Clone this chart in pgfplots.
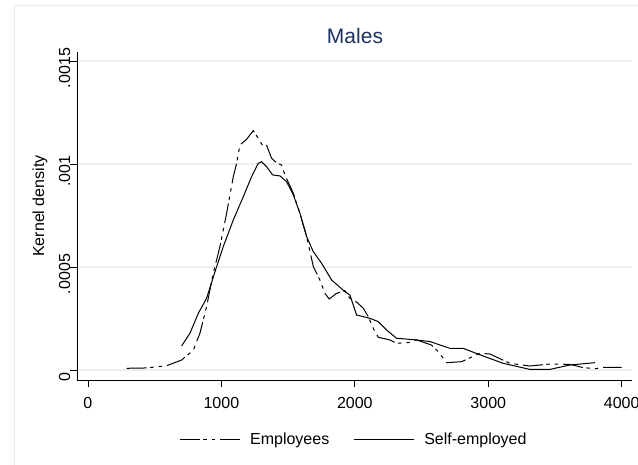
\documentclass[border=0pt]{standalone}
\usepackage{pgfplots}
\pgfplotsset{compat=1.18}
\usepackage{fontspec}
\setmainfont{Liberation Sans}
\definecolor{gridc}{RGB}{232,240,242}
\definecolor{framec}{RGB}{233,237,239}
\definecolor{titlec}{RGB}{30,50,95}
\begin{document}
\begin{tikzpicture}[x=1pt,y=1pt]
\useasboundingbox (0,0) rectangle (638,464);
\fill[white] (0,0) rectangle (638,464);
\draw[framec, line width=1pt] (14,-10) -- (14,458) -- (700,458);
\begin{axis}[
  at={(77pt,84pt)}, anchor=south west,
  scale only axis, width=555pt, height=328pt,
  xmin=-82, xmax=4077, ymin=-0.0000485, ymax=0.0015437,
  scaled y ticks=false, scaled x ticks=false,
  axis lines=left, axis line style={-, black, line width=0.8pt},
  xtick={0,1000,2000,3000,4000}, xticklabels={0,1000,2000,3000,4000},
  ytick={0,0.0005,0.001,0.0015}, yticklabels={0,.0005,.001,.0015},
  tick align=outside, major tick length=6.5pt,
  tick style={black, line width=0.8pt},
  ymajorgrids, grid style={gridc, line width=1.2pt},
  ticklabel style={font=\fontsize{16}{19}\selectfont},
  xticklabel style={anchor=north, inner sep=0pt, yshift=-11pt},
  yticklabel style={rotate=90, anchor=south, inner sep=0pt, xshift=-7pt},
  title={Males},
  every axis title/.style={at={(axis description cs:0.5009,1.0265)}, anchor=base,
     font=\fontsize{21}{25}\selectfont, text=titlec},
  ylabel={Kernel density},
  every axis y label/.style={at={(axis description cs:-0.0667,0.5305)}, rotate=90, anchor=center,
     font=\fontsize{16}{19}\selectfont},
  legend columns=-1,
  legend image code/.code={\draw[#1] (0pt,0pt) -- (60pt,0pt);},
  legend style={draw=none, fill=none, at={(axis description cs:0.497,-0.18)}, anchor=center,
     font=\fontsize{16}{19}\selectfont, nodes={inner sep=0pt},
     /tikz/every odd column/.append style={column sep=10pt},
     /tikz/every even column/.append style={column sep=24pt}},
]
\addplot[black, line width=1pt, dash pattern=on 20pt off 3.5pt on 3.5pt off 5pt on 3.5pt off 5pt] coordinates {
(290,0.0000083) (440,0.00001) (590,0.000021) (702,0.0000485) (790,0.000097)
(839,0.000178) (889,0.000307) (939,0.000469) (989,0.000599) (1039,0.00076)
(1089,0.000938) (1114,0.001003) (1139,0.001092) (1189,0.00112) (1239,0.001162)
(1276,0.001125) (1314,0.001084) (1339,0.00109) (1376,0.001028) (1414,0.001006)
(1451,0.000995) (1476,0.000947) (1539,0.000858) (1589,0.00076) (1639,0.000647)
(1689,0.000502) (1738,0.000437) (1776,0.000372) (1808,0.000345) (1863,0.000372)
(1926,0.000385) (1963,0.000348) (2013,0.00033) (2063,0.0003) (2100,0.00026)
(2140,0.0002) (2175,0.000159) (2263,0.000146) (2313,0.00013) (2400,0.000133)
(2463,0.000146) (2575,0.000121) (2625,0.000089) (2688,0.0000356) (2800,0.0000404)
(2937,0.000081) (3012,0.0000777) (3162,0.0000323) (3312,0.0000194) (3462,0.0000291)
(3612,0.0000275) (3712,0.0000113) (3812,0.0000065) (3837,0.000013) (4000,0.000013)
};
\addlegendentry{Employees}
\addplot[black, line width=1pt] coordinates {
(702,0.000117) (764,0.000178) (827,0.000275) (889,0.000348) (952,0.000477)
(1014,0.000599) (1089,0.000728) (1164,0.000841) (1226,0.000938) (1276,0.001003)
(1301,0.001011) (1339,0.000987) (1384,0.000947) (1439,0.000942) (1489,0.000914)
(1539,0.00085) (1589,0.00076) (1639,0.000647) (1689,0.000574) (1751,0.000518)
(1826,0.000437) (1926,0.00038) (1963,0.000364) (2013,0.000267) (2113,0.000251)
(2175,0.000235) (2238,0.000194) (2313,0.000154) (2463,0.000146) (2563,0.000138)
(2713,0.000105) (2812,0.000105) (2962,0.000068) (3112,0.0000323) (3312,0.000003)
(3462,0.000003) (3612,0.0000243) (3799,0.0000356)
};
\addlegendentry{Self-employed}
\end{axis}
\end{tikzpicture}
\end{document}
